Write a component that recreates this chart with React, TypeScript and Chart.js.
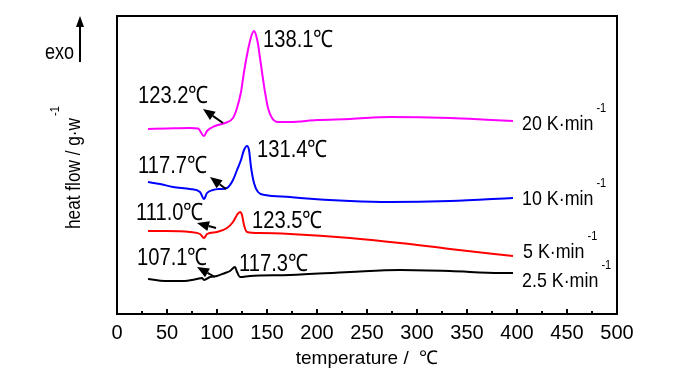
import React, { useEffect, useRef } from "react";
import { Chart, registerables } from "chart.js";

Chart.register(...registerables);

const FONT = "'Liberation Sans', Arial, sans-serif";

// ---- data (temperature in °C, heat flow in arbitrary units) ----
const temp20 = [31, 50, 73, 81, 87, 90, 98, 108, 116, 120, 124, 127, 130, 133, 135, 137, 139, 141, 143, 145, 148, 151, 155, 161, 173, 200, 233, 273, 333, 375, 396];
const flow20 = [185, 185.5, 186, 185.5, 178, 183, 188, 191, 196, 206, 222, 242, 259, 273, 280, 283, 279, 270, 256, 242, 222, 206, 196, 192, 192, 194, 195, 197, 196, 194, 193];

const temp10 = [31, 43, 56, 73, 83, 87, 90, 96, 103, 110, 116, 120, 124, 127, 130, 132, 134, 137, 141, 148, 173, 183, 233, 273, 333, 396];
const flow10 = [132, 130, 127, 125, 122, 115, 121, 124, 125, 126, 134, 144, 154, 164, 168, 164, 147, 131, 122, 119, 117, 116, 113, 112, 113, 116];

const temp5 = [31, 48, 73, 83, 87, 90, 100, 110, 116, 120, 123, 125, 127, 130, 143, 173, 233, 283, 333, 396];
const flow5 = [83, 83, 82, 80, 76, 80, 82, 86, 92, 99, 102, 99, 89, 82, 81, 80, 76, 71, 65, 58];

const temp25 = [31, 48, 66, 80, 85, 87, 93, 100, 108, 113, 118, 120, 123, 133, 173, 233, 283, 333, 383, 396];
const flow25 = [35, 33, 33, 35, 36, 34, 37, 38, 41, 43, 47, 42, 37, 38, 39, 42, 44, 43, 41, 41];

const rateLabels = ["20 K·min", "10 K·min", "5 K·min", "2.5 K·min"];
const seriesColors = ["#ff00ff", "#0000ff", "#ff0000", "#000000"];

const peakLabels = ["138.1℃", "123.2℃", "131.4℃", "117.7℃", "111.0℃", "123.5℃", "107.1℃", "117.3℃"];

// annotation anchors (data coordinates)
const peakLabelPos: [number, number][] = [
  [146, 267], [21, 211], [140, 157], [21, 141], [19, 94], [135, 86], [20, 49], [122, 43],
];
const arrowPos: [number, number, number, number][] = [
  [106, 191, 86, 205],
  [109, 125, 93, 137],
  [99, 86, 80, 91],
  [98, 37, 80, 47],
];
const rateLabelPos: [number, number][] = [[405, 184], [405, 109], [406, 56], [405, 27]];

const xTitle = "temperature /  ℃";
const yTitle = "heat flow / g·w";

function toPts(xs: number[], ys: number[]) {
  return xs.map((x, i) => ({ x, y: ys[i] }));
}

function squeezedText(ctx: CanvasRenderingContext2D, s: string, x: number, y: number, sx: number) {
  ctx.save();
  ctx.translate(x, y);
  ctx.scale(sx, 1);
  ctx.fillText(s, 0, 0);
  ctx.restore();
  return ctx.measureText(s).width * sx;
}

function drawArrow(ctx: CanvasRenderingContext2D, x1: number, y1: number, x2: number, y2: number, head = 12, half = 5) {
  const ang = Math.atan2(y2 - y1, x2 - x1);
  const bx = x2 - head * Math.cos(ang);
  const by = y2 - head * Math.sin(ang);
  ctx.beginPath();
  ctx.moveTo(x1, y1);
  ctx.lineTo(bx, by);
  ctx.stroke();
  ctx.beginPath();
  ctx.moveTo(x2, y2);
  ctx.lineTo(bx + half * Math.sin(ang), by - half * Math.cos(ang));
  ctx.lineTo(bx - half * Math.sin(ang), by + half * Math.cos(ang));
  ctx.closePath();
  ctx.fill();
}

const decorPlugin = {
  id: "decor",
  afterDatasetsDraw(chart: any) {
    const { ctx, chartArea, scales } = chart;
    const xs = scales.x;
    const ys = scales.y;
    ctx.save();
    ctx.strokeStyle = "#000";
    ctx.fillStyle = "#000";
    // frame
    ctx.lineWidth = 2;
    ctx.strokeRect(chartArea.left, chartArea.top, chartArea.right - chartArea.left, chartArea.bottom - chartArea.top);
    // inward ticks
    xs.ticks.forEach((t: any) => {
      const px = xs.getPixelForValue(t.value);
      const major = t.value % 50 === 0;
      ctx.beginPath();
      ctx.moveTo(px, chartArea.bottom);
      ctx.lineTo(px, chartArea.bottom - (major ? 5 : 3));
      ctx.stroke();
    });
    // peak labels
    ctx.font = `24px ${FONT}`;
    ctx.textAlign = "left";
    ctx.textBaseline = "alphabetic";
    peakLabels.forEach((s, i) => {
      const [vx, vy] = peakLabelPos[i];
      squeezedText(ctx, s, xs.getPixelForValue(vx), ys.getPixelForValue(vy), 0.84);
    });
    // arrows
    ctx.lineWidth = 2;
    arrowPos.forEach(([a, b, c, d]) => {
      drawArrow(ctx, xs.getPixelForValue(a), ys.getPixelForValue(b), xs.getPixelForValue(c), ys.getPixelForValue(d));
    });
    // rate labels
    rateLabels.forEach((s, i) => {
      const [vx, vy] = rateLabelPos[i];
      const px = xs.getPixelForValue(vx);
      const py = ys.getPixelForValue(vy);
      ctx.font = `21px ${FONT}`;
      const w = squeezedText(ctx, s, px, py, 0.85);
      ctx.font = `13px ${FONT}`;
      squeezedText(ctx, "-1", px + w + 3, py - 18, 0.85);
    });
    // y title
    ctx.save();
    ctx.translate(80, 173.5);
    ctx.rotate(-Math.PI / 2);
    ctx.font = `21px ${FONT}`;
    ctx.textAlign = "left";
    const yw = ctx.measureText(yTitle).width * 0.82;
    squeezedText(ctx, yTitle, -yw / 2, 0, 0.82);
    ctx.font = `13px ${FONT}`;
    squeezedText(ctx, "-1", yw / 2 + 2, -21, 0.85);
    ctx.restore();
    // exo arrow
    ctx.font = `22px ${FONT}`;
    ctx.textAlign = "left";
    const ew = ctx.measureText("exo").width * 0.82;
    squeezedText(ctx, "exo", 74 - ew, 59, 0.82);
    ctx.lineWidth = 2;
    drawArrow(ctx, 80, 62, 80, 16, 11, 4);
    ctx.restore();
  },
};

export default function App() {
  const ref = useRef<HTMLCanvasElement | null>(null);
  useEffect(() => {
    if (!ref.current) return;
    const sets = [
      toPts(temp20, flow20),
      toPts(temp10, flow10),
      toPts(temp5, flow5),
      toPts(temp25, flow25),
    ];
    const chart = new Chart(ref.current, {
      type: "line",
      data: {
        datasets: sets.map((d, i) => ({
          label: rateLabels[i],
          data: d,
          borderColor: seriesColors[i],
          backgroundColor: seriesColors[i],
          borderWidth: 2,
          pointRadius: 0,
          fill: false,
          cubicInterpolationMode: "monotone" as const,
        })),
      },
      options: {
        responsive: false,
        animation: false,
        events: [],
        layout: { padding: { left: 117, right: 83, top: 16, bottom: 0 } },
        plugins: { legend: { display: false }, tooltip: { enabled: false } },
        scales: {
          x: {
            type: "linear",
            min: 0,
            max: 500,
            afterFit: (s: any) => {
              s.height = 60;
            },
            ticks: {
              stepSize: 25,
              autoSkip: false,
              maxRotation: 0,
              padding: 7,
              color: "#000",
              font: { family: FONT, size: 20 },
              callback: (v: any) => (Number(v) % 50 === 0 ? String(v) : ""),
            },
            grid: { display: false, drawTicks: false },
            border: { display: false },
            title: {
              display: true,
              text: xTitle,
              color: "#000",
              font: { family: FONT, size: 19 },
              padding: { top: 0, bottom: 4 },
            },
          },
          y: {
            type: "linear",
            min: 0,
            max: 298,
            display: false,
          },
        },
      },
      plugins: [decorPlugin],
    });
    return () => chart.destroy();
  }, []);
  return (
    <div style={{ position: "absolute", left: 0, top: 0, width: 700, height: 374, background: "#fff" }}>
      <canvas ref={ref} width={700} height={374} style={{ width: 700, height: 374 }} />
    </div>
  );
}
